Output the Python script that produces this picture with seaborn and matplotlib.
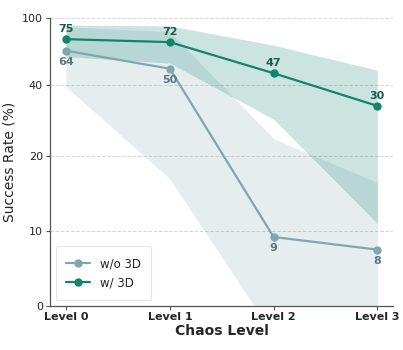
import numpy as np
import pandas as pd
import matplotlib
matplotlib.use("Agg")
import matplotlib.pyplot as plt
import seaborn as sns

# ---- data ----
levels = ["Level 0", "Level 1", "Level 2", "Level 3"]
wo3d_mean = [64, 50, 9.2, 7.5]
wo3d_std = [25, 33, 13.2, 9]
wo3d_labels = ["64", "50", "9", "8"]
w3d_mean = [75, 72, 47, 30]
w3d_std = [16, 18, 22, 19]
w3d_labels = ["75", "72", "47", "30"]
yticks = [0, 10, 20, 40, 100]

sns.set_theme(style="ticks")
plt.rcParams["font.family"] = ["DejaVu Sans"]

wo_color = "#80a6b0"
w_color = "#12846c"

fig = plt.figure(figsize=(4.03, 3.5), dpi=100)
ax = fig.add_axes([0.124, 0.127, 0.851, 0.821])
ax.set_yscale("symlog", linthresh=25, linscale=1, base=10)

x = np.arange(len(levels))
df = pd.DataFrame({
    "x": np.concatenate([x, x]),
    "rate": wo3d_mean + w3d_mean,
    "method": ["w/o 3D"] * 4 + ["w/ 3D"] * 4,
})

wm, ws = np.array(wo3d_mean), np.array(wo3d_std)
tm, ts = np.array(w3d_mean), np.array(w3d_std)
ax.fill_between(x, wm - ws, wm + ws, color=wo_color, alpha=0.2, linewidth=0, zorder=1)
ax.fill_between(x, tm - ts, tm + ts, color=w_color, alpha=0.21, linewidth=0, zorder=1)

sns.lineplot(data=df, x="x", y="rate", hue="method",
             palette={"w/o 3D": wo_color, "w/ 3D": w_color},
             marker="o", markersize=6, markeredgewidth=0, linewidth=1.6,
             ax=ax, zorder=3)

for xi, v, lab in zip(x, w3d_mean, w3d_labels):
    ax.annotate(lab, (xi, v), xytext=(0, 3.5), textcoords="offset points",
                ha="center", va="bottom", fontsize=8, fontweight="bold",
                color="#1b5a50")
for xi, v, lab in zip(x, wo3d_mean, wo3d_labels):
    ax.annotate(lab, (xi, v), xytext=(0, -4.5), textcoords="offset points",
                ha="center", va="top", fontsize=8, fontweight="bold",
                color="#587883")

ax.set_ylim(0, 100)
ax.set_xlim(-0.155, 3.15)
ax.set_yticks(yticks)
ax.set_yticklabels([str(t) for t in yticks], fontsize=8)
ax.yaxis.set_minor_locator(matplotlib.ticker.NullLocator())
ax.set_xticks(x)
ax.set_xticklabels(levels, fontsize=8, fontweight="bold")
ax.tick_params(axis="both", length=3, width=0.8, color="#555555", pad=2)
ax.grid(axis="y", linestyle="--", color="#cccccc", linewidth=0.7, alpha=0.8)
ax.set_axisbelow(True)

ax.set_xlabel("Chaos Level", fontsize=10, fontweight="bold", labelpad=1)
ax.set_ylabel("Success Rate (%)", fontsize=10, labelpad=4)

for s in ["left", "bottom"]:
    ax.spines[s].set_color("#555555")
    ax.spines[s].set_linewidth(0.9)
sns.despine(ax=ax)

leg = ax.legend(loc="lower left", fontsize=8.5, frameon=True, title=None,
                borderpad=0.9, labelspacing=0.5)
leg.get_frame().set_edgecolor("#dddddd")
leg.get_frame().set_linewidth(0.8)

fig.savefig("out.png", dpi=100)
